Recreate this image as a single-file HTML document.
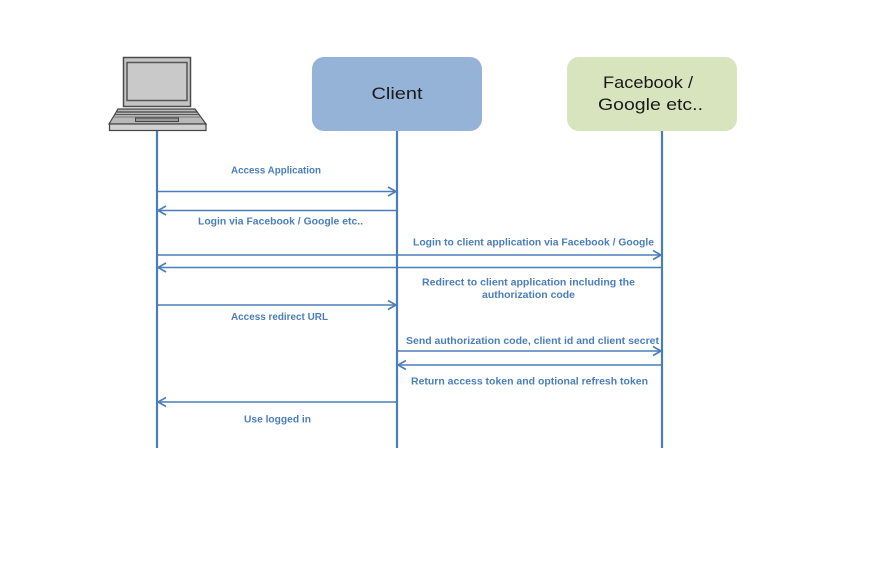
<!DOCTYPE html>
<html>
<head>
<meta charset="utf-8">
<style>
  html,body{margin:0;padding:0;background:#fff;}
  svg{display:block;}
  .lbl{font-family:"Liberation Sans",sans-serif;font-weight:bold;font-size:10px;fill:#4a7ebb;}
  .big{font-family:"Liberation Sans",sans-serif;font-size:17px;fill:#1a1a1a;}
</style>
</head>
<body>
<svg width="873" height="575" viewBox="0 0 873 575" xmlns="http://www.w3.org/2000/svg">
  <rect width="873" height="575" fill="#fff"/>

  <!-- Laptop -->
  <rect x="123.5" y="57.5" width="67" height="49" fill="#c4c4c4" stroke="#4a4a4a" stroke-width="1.5"/>
  <rect x="127" y="62.5" width="60" height="38" fill="#c9c9c9" stroke="#555" stroke-width="1.5"/>
  <polygon points="118,109 195,109 206,124 109,124" fill="#b8b8b8" stroke="#444" stroke-width="1.2"/>
  <line x1="117" y1="112" x2="197" y2="112" stroke="#444" stroke-width="1.2"/>
  <line x1="115" y1="114.5" x2="199" y2="114.5" stroke="#555" stroke-width="1"/>
  <line x1="113" y1="117" x2="201" y2="117" stroke="#666" stroke-width="0.8"/>
  <rect x="135.5" y="118" width="43" height="3.5" fill="#9a9a9a" stroke="#444" stroke-width="1"/>
  <rect x="109.5" y="124" width="96.5" height="6.5" fill="#d0d0d0" stroke="#444" stroke-width="1.2"/>

  <!-- Client box -->
  <rect x="312" y="57" width="170" height="74" rx="12" ry="12" fill="#95b3d7"/>
  <text class="big" x="397" y="99" text-anchor="middle" textLength="51" lengthAdjust="spacingAndGlyphs">Client</text>

  <!-- Facebook box -->
  <rect x="567" y="57" width="170" height="74" rx="12" ry="12" fill="#d7e4bd"/>
  <text class="big" x="648" y="88" text-anchor="middle" textLength="90" lengthAdjust="spacingAndGlyphs">Facebook /</text>
  <text class="big" x="650.5" y="110" text-anchor="middle" textLength="105" lengthAdjust="spacingAndGlyphs">Google etc..</text>

  <!-- Lifelines -->
  <g stroke="#4a7ebb" stroke-width="2.2">
    <line x1="157" y1="131" x2="157" y2="448"/>
    <line x1="397" y1="131" x2="397" y2="448"/>
    <line x1="662" y1="131" x2="662" y2="448"/>
  </g>

  <!-- Messages -->
  <g stroke="#4a7ebb" stroke-width="1.6" fill="none">
    <!-- 1 right -->
    <line x1="157" y1="191.5" x2="396" y2="191.5"/>
    <polyline points="388,187 396,191.5 388,196"/>
    <!-- 2 left -->
    <line x1="158" y1="210.5" x2="397" y2="210.5"/>
    <polyline points="166,206 158,210.5 166,215"/>
    <!-- 3 right -->
    <line x1="157" y1="255" x2="661" y2="255"/>
    <polyline points="653,250.5 661,255 653,259.5"/>
    <!-- 4 left -->
    <line x1="158" y1="267.5" x2="662" y2="267.5"/>
    <polyline points="166,263 158,267.5 166,272"/>
    <!-- 5 right -->
    <line x1="157" y1="305" x2="396" y2="305"/>
    <polyline points="388,300.5 396,305 388,309.5"/>
    <!-- 6 right -->
    <line x1="397" y1="351" x2="661" y2="351"/>
    <polyline points="653,346.5 661,351 653,355.5"/>
    <!-- 7 left -->
    <line x1="398" y1="365" x2="662" y2="365"/>
    <polyline points="406,360.5 398,365 406,369.5"/>
    <!-- 8 left -->
    <line x1="158" y1="402" x2="397" y2="402"/>
    <polyline points="166,397.5 158,402 166,406.5"/>
  </g>

  <!-- Labels -->
  <text class="lbl" x="231" y="173.5" textLength="90" lengthAdjust="spacingAndGlyphs">Access Application</text>
  <text class="lbl" x="198" y="224.5" textLength="165" lengthAdjust="spacingAndGlyphs">Login via Facebook / Google etc..</text>
  <text class="lbl" x="413" y="245.5" textLength="241" lengthAdjust="spacingAndGlyphs">Login to client application  via Facebook  / Google</text>
  <text class="lbl" x="422" y="285.5" textLength="213" lengthAdjust="spacingAndGlyphs">Redirect to client application  including  the</text>
  <text class="lbl" x="482" y="298" textLength="93" lengthAdjust="spacingAndGlyphs">authorization  code</text>
  <text class="lbl" x="231" y="320" textLength="97" lengthAdjust="spacingAndGlyphs">Access redirect URL</text>
  <text class="lbl" x="406" y="344" textLength="253" lengthAdjust="spacingAndGlyphs">Send authorization  code, client id and client secret</text>
  <text class="lbl" x="411" y="384.5" textLength="237" lengthAdjust="spacingAndGlyphs">Return access  token and optional  refresh token</text>
  <text class="lbl" x="244" y="422.5" textLength="67" lengthAdjust="spacingAndGlyphs">Use logged in</text>
</svg>
</body>
</html>
